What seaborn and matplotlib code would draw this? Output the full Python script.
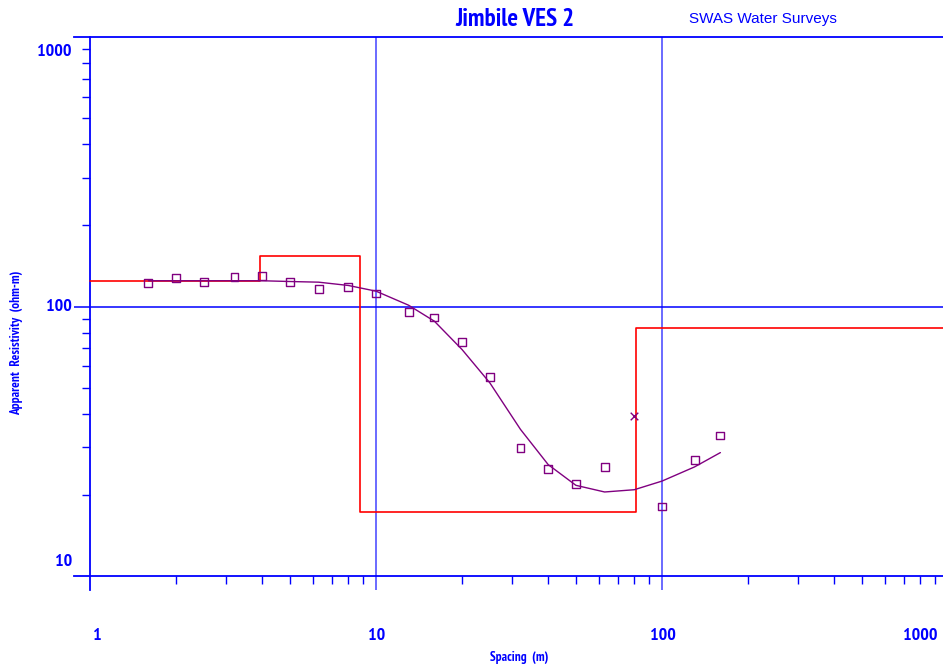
import numpy as np
import pandas as pd
import matplotlib
matplotlib.use("Agg")
import matplotlib.pyplot as plt
import seaborn as sns
from matplotlib import font_manager as fm
from matplotlib.ticker import FixedLocator, NullFormatter, NullLocator

# Electrode spacing AB/2 (m) and measured apparent resistivity (ohm-m)
spacing = [1.6, 2, 2.5, 3.2, 4, 5, 6.3, 8, 10, 13, 16, 20, 25, 32, 40, 50, 63, 80, 100, 130, 160]
observed = [122.0, 127.4, 123.5, 128.5, 130.0, 123.1, 116.3, 118.3, 111.7, 95.2, 91.0, 74.0,
            54.7, 29.8, 24.9, 21.9, 25.3, 39.3, 18.1, 27.0, 33.2]
# reading at 80 m rejected from the inversion
rejected = [False] * 17 + [True] + [False] * 3

# Calculated response of the layered model
model = [124.6, 124.6, 124.6, 124.6, 124.6, 123.8, 123.1, 119.7, 114.0, 101.1, 88.2, 69.2,
         52.1, 35.0, 25.9, 21.7, 20.5, 20.9, 22.5, 25.4, 28.7]

# Layered earth model: resistivities and depth to the base of each layer
layer_rho = [124.6, 153.3, 17.3, 82.9]
layer_base = [3.93, 8.79, 80.9]

BLUE = "#0000ff"
GRID = "#6a6aff"
PURPLE = "#800080"
RED = "#ff0000"


def weight_num(w):
    if isinstance(w, str):
        return fm.weight_dict.get(w, 400)
    return int(w)


# pick a narrow sans that comes with a bold face
NARROW_CHOICES = ["Liberation Sans Narrow", "Arial Narrow", "Archivo Narrow", "PT Sans Narrow",
                  "Roboto Condensed", "Encode Sans Condensed", "Open Sans Condensed",
                  "Fira Sans Condensed", "IBM Plex Sans Condensed", "DejaVu Sans Condensed"]
bold_faces = {f.name for f in fm.fontManager.ttflist if weight_num(f.weight) >= 600}
narrow = next((n for n in NARROW_CHOICES if n in bold_faces), None)
if narrow is not None:
    NARROW = dict(family=[narrow, "DejaVu Sans"])
else:
    NARROW = dict(family=["DejaVu Sans"], stretch="condensed")

sns.set_style("white")
plt.rcParams["font.family"] = ["Liberation Sans", "DejaVu Sans"]

W, H = 943, 672
fig = plt.figure(figsize=(W / 100, H / 100), dpi=100)
ax = fig.add_axes([74 / W, 1 - 590 / H, (W - 74) / W, (590 - 37) / H])
ax.set_xscale("log")
ax.set_yscale("log")
ax.set_xlim(10 ** (-16 / 286), 10 ** (853 / 286))
ax.set_ylim(10 ** (1 - 14 / 269.5), 1000)

# axis frame: left axis at 1 m, bottom axis at 10 ohm-m, top line at 1000
ax.spines["right"].set_visible(False)
ax.spines["left"].set_position(("data", 1))
ax.spines["bottom"].set_position(("data", 10))
for side in ("left", "bottom", "top"):
    ax.spines[side].set_color(BLUE)
    ax.spines[side].set_linewidth(1.3)

ax.xaxis.set_major_locator(NullLocator())
ax.yaxis.set_major_locator(NullLocator())
xminor = [m * d for d in (1, 10, 100) for m in range(2, 10)]
yminor = [m * d for d in (10, 100) for m in range(2, 10)]
ax.xaxis.set_minor_locator(FixedLocator(xminor))
ax.yaxis.set_minor_locator(FixedLocator(yminor))
ax.xaxis.set_minor_formatter(NullFormatter())
ax.yaxis.set_minor_formatter(NullFormatter())
ax.tick_params(which="minor", direction="out", length=5.8, width=1.0, color=BLUE,
               bottom=True, left=True, top=False, right=False)

# grid lines at the decades
ax.axvline(10, color=GRID, lw=1.4, zorder=1)
ax.axvline(100, color=GRID, lw=1.4, zorder=1)
ax.axhline(100, color=BLUE, lw=1.1, zorder=1)

# layered model as a step profile
step_x = [1] + layer_base + [1000]
step_y = layer_rho + [layer_rho[-1]]
ax.plot(step_x, step_y, drawstyle="steps-post", color=RED, lw=1.2, zorder=3)

df = pd.DataFrame({"spacing": spacing, "rho": observed, "rejected": rejected, "model": model})

sns.lineplot(data=df, x="spacing", y="model", sort=False, estimator=None,
             color=PURPLE, lw=1.0, ax=ax, zorder=3)
sns.scatterplot(data=df[~df["rejected"]], x="spacing", y="rho", marker="s", s=32,
                fc="none", ec=PURPLE, linewidth=1.0, ax=ax, zorder=4)
sns.scatterplot(data=df[df["rejected"]], x="spacing", y="rho", marker="x", s=30,
                color=PURPLE, linewidth=1.0, ax=ax, zorder=4)
ax.set_xlabel("")
ax.set_ylabel("")


def px(x, y):
    return x / W, 1 - y / H


# decade labels
for lab, (x, y) in {"1000": (72, 52), "100": (72, 307), "10": (72, 562)}.items():
    fig.text(*px(x, y), lab, ha="right", va="center", color=BLUE, fontsize=13,
             fontweight="bold", **NARROW)
for lab, x in {"1": 97, "10": 377, "100": 663, "1000": 920}.items():
    fig.text(*px(x, 636), lab, ha="center", va="center", color=BLUE, fontsize=13,
             fontweight="bold", **NARROW)

fig.text(*px(519, 658), "Spacing  (m)", ha="center", va="center", color=BLUE,
         fontsize=9.5, fontweight="bold", **NARROW)
fig.text(*px(17, 343), "Apparent  Resistivity  (ohm-m)", ha="center", va="center",
         rotation=90, color=BLUE, fontsize=9.5, fontweight="bold", **NARROW)

fig.text(*px(515, 19), "Jimbile VES 2", ha="center", va="center", color=BLUE,
         fontsize=18, fontweight="bold", **NARROW)
fig.text(*px(763, 19), "SWAS Water Surveys", ha="center", va="center", color=BLUE,
         fontsize=11)

fig.savefig("out.png", dpi=100)
